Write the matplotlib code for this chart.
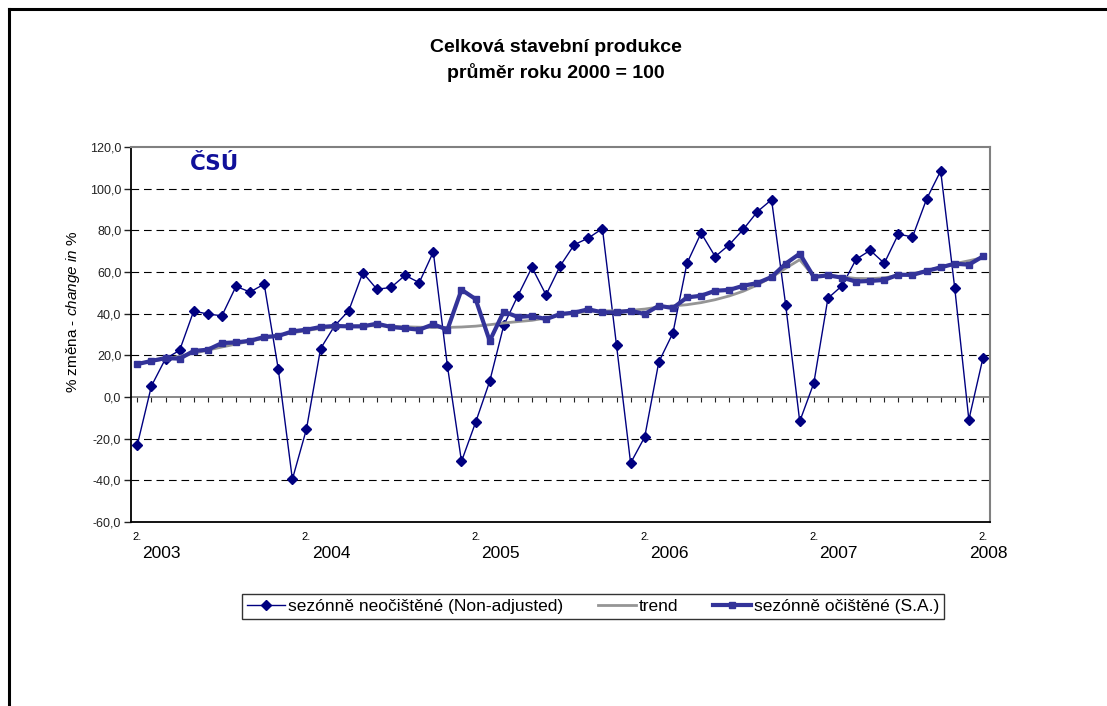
import matplotlib
matplotlib.use("Agg")
import matplotlib.pyplot as plt
from matplotlib.lines import Line2D
from matplotlib.ticker import FuncFormatter, MultipleLocator

plt.rcParams["font.family"] = ["Liberation Sans", "DejaVu Sans"]
plt.rcParams["mathtext.fontset"] = "custom"
plt.rcParams["mathtext.rm"] = "Liberation Sans"
plt.rcParams["mathtext.it"] = "Liberation Sans:italic"
plt.rcParams["lines.scale_dashes"] = False

# monthly index, February 2003 .. February 2008
years = [2003, 2004, 2005, 2006, 2007, 2008]
months = list(range(61))

non_adjusted = [
    -22.9, 5.3, 18.4, 22.4, 41.3, 39.8, 39.0, 53.1, 50.4, 54.2,
    13.4, -39.5, -15.4, 23.2, 34.2, 41.4, 59.7, 51.7, 52.6, 58.4,
    54.9, 69.6, 15.0, -30.9, -12.2, 7.5, 34.4, 48.6, 62.2, 49.0,
    62.9, 73.1, 76.3, 80.8, 24.8, -31.7, -19.2, 16.8, 30.7, 64.2,
    78.7, 67.4, 73.1, 80.5, 89.0, 94.7, 44.3, -11.7, 6.7, 47.4,
    53.4, 66.1, 70.4, 64.2, 78.2, 76.8, 95.0, 108.5, 52.2, -10.9,
    18.7,
]
trend = [
    16.0, 17.2, 18.3, 19.5, 21.0, 22.5, 24.0, 25.4, 26.8, 28.2,
    29.5, 30.8, 31.9, 32.9, 33.6, 34.0, 34.2, 34.2, 34.0, 33.7,
    33.5, 33.4, 33.4, 33.6, 34.0, 34.7, 35.5, 36.2, 36.8, 37.9,
    39.5, 40.2, 41.1, 41.3, 41.4, 41.6, 42.2, 43.2, 43.7, 44.3,
    45.3, 46.7, 48.5, 50.8, 53.8, 57.5, 61.8, 65.9, 57.9, 58.4,
    57.6, 56.9, 56.8, 57.2, 58.3, 59.2, 60.6, 62.4, 64.0, 65.4,
    66.9,
]
seasonally_adjusted = [
    15.8, 17.3, 18.7, 18.4, 22.1, 22.7, 25.9, 26.2, 27.0, 28.8,
    29.3, 31.5, 32.3, 33.6, 34.1, 33.9, 33.9, 35.2, 33.6, 33.0,
    32.3, 34.9, 32.3, 51.5, 47.0, 26.9, 41.0, 38.4, 38.9, 37.4,
    39.8, 40.5, 42.1, 40.6, 40.6, 41.4, 39.8, 43.8, 42.7, 47.8,
    48.6, 51.0, 51.4, 53.4, 54.7, 57.6, 64.0, 68.8, 57.6, 58.4,
    57.3, 55.4, 55.7, 56.2, 58.7, 58.6, 60.5, 62.2, 64.0, 63.5,
    67.5,
]

W, H = 1107, 706
fig = plt.figure(figsize=(W / 100, H / 100), dpi=100)
ax = fig.add_axes([131 / W, 1 - 522 / H, (990 - 131) / W, (522 - 147) / H])

line_na, = ax.plot(months, non_adjusted, color="#000080", lw=1.0, marker="D",
                   markersize=4.8, label="sezónně neočištěné (Non-adjusted)", zorder=3)
line_tr, = ax.plot(months, trend, color="#959595", lw=2.0, label="trend", zorder=4)
line_sa, = ax.plot(months, seasonally_adjusted, color="#333399", lw=3.0, marker="s",
                   markersize=4.2, label="sezónně očištěné (S.A.)", zorder=5)

ax.set_xlim(-0.45, 60.5)
ax.set_ylim(-60, 120)
ax.yaxis.set_major_locator(MultipleLocator(20))
ax.yaxis.set_major_formatter(FuncFormatter(lambda v, _: f"{v:.1f}".replace(".", ",")))
ax.tick_params(axis="y", direction="out", length=5, width=1, labelsize=9, pad=2,
               colors="#222222")
ax.set_xticks([])

for val in range(-40, 120, 20):
    if val == 0:
        continue
    ax.axhline(val, color="black", lw=0.8, linestyle=(0, (5.5, 3.5)), zorder=1)

for side in ("left", "bottom"):
    ax.spines[side].set_color("black")
    ax.spines[side].set_linewidth(1.3)
for side in ("top", "right"):
    ax.spines[side].set_color("#808080")
    ax.spines[side].set_linewidth(1.5)

# category axis crossing at zero, with a tick for every month
zero_axis = ax.secondary_xaxis(60 / 180)
zero_axis.set_xticks(months)
zero_axis.tick_params(direction="out", length=3.5, width=0.8, labelbottom=False,
                      labeltop=False, color="#222222")
for sp in zero_axis.spines.values():
    sp.set_color("#777777")
    sp.set_linewidth(1.2)

year_shift = [17, 18, 18, 18, 18, 4]
for i, yr in enumerate(years):
    pos = months[i * 12]
    ax.annotate("2.", xy=(pos, 0), xycoords=("data", "axes fraction"),
                xytext=(0, -11), textcoords="offset points", ha="center",
                va="center", fontsize=8)
    ax.annotate(str(yr), xy=(pos, 0), xycoords=("data", "axes fraction"),
                xytext=(year_shift[i], -22.5), textcoords="offset points",
                ha="center", va="center", fontsize=12.5)

ax.text(0.069, 0.955, "ČSÚ", transform=ax.transAxes, fontsize=15.5, fontweight="heavy",
        family="DejaVu Sans", color="#10109a", ha="left", va="center")

fig.text(556 / W, 1 - 47 / H, "Celková stavební produkce", ha="center", va="center",
         fontsize=14, fontweight="bold")
fig.text(556 / W, 1 - 72 / H, "průměr roku 2000 = 100", ha="center", va="center",
         fontsize=14, fontweight="bold")
fig.text(73 / W, 1 - 312 / H, r"% změna - $\mathit{change\ in}$ %", rotation=90,
         ha="center", va="center", fontsize=11)

leg = fig.legend(handles=[line_na, line_tr, line_sa], loc="center",
                 bbox_to_anchor=(593 / W, 1 - 606.5 / H), ncol=3, fontsize=12.5,
                 frameon=True, fancybox=False, edgecolor="black", handlelength=2.2,
                 handletextpad=0.15, columnspacing=2.0, borderpad=0.3)
leg.get_frame().set_linewidth(1.0)

# outer frame of the chart object
fig.add_artist(Line2D([9 / W, 9 / W], [0, 1 - 9 / H], color="black", lw=2.2))
fig.add_artist(Line2D([9 / W, 1], [1 - 9 / H, 1 - 9 / H], color="black", lw=2.2))

fig.savefig("out.png", dpi=100)
